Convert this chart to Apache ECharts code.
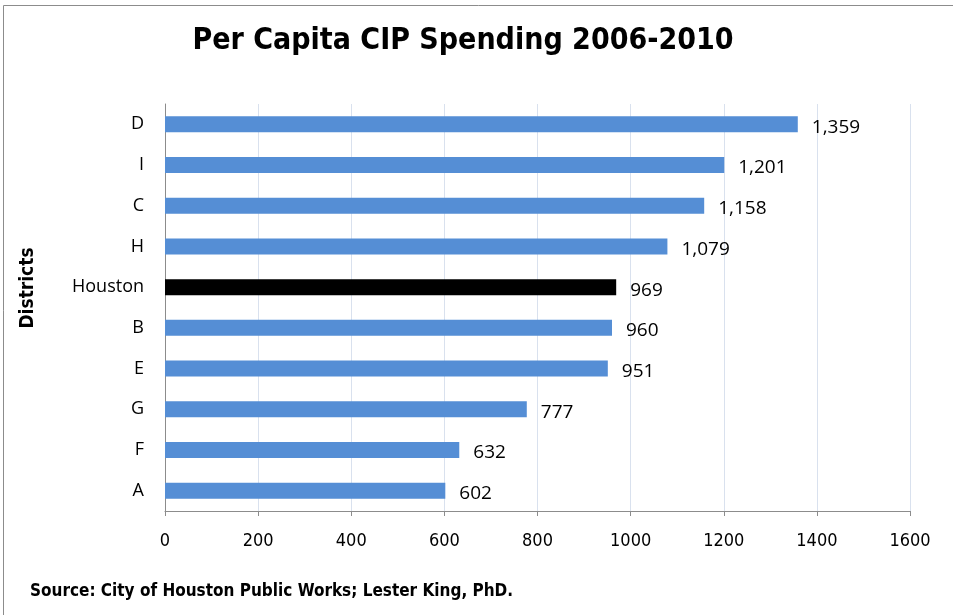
<!DOCTYPE html>
<html><head><meta charset="utf-8">
<script src="https://cdn.jsdelivr.net/npm/echarts@6/dist/echarts.min.js"></script>
<style>html,body{margin:0;padding:0;background:#fff}#c{width:953px;height:615px}</style>
</head><body><div id="c"></div>
<script>
const categories = ['A','F','G','E','B','Houston','H','C','I','D'];
const values = [602,632,777,951,960,969,1079,1158,1201,1359];
const highlight = 'Houston';
const xTicks = [0,200,400,600,800,1000,1200,1400,1600];
const COND = '"DejaVu Sans Condensed", "Liberation Sans Narrow", sans-serif';

const chart = echarts.init(document.getElementById('c'));
chart.setOption({
  animation:false,
  backgroundColor:'#fff',
  graphic:[
    {type:'rect',shape:{x:3.5,y:5.5,width:970,height:640},style:{fill:'none',stroke:'#8c8c8c',lineWidth:1}},
    {type:'text',left:30,top:583,style:{text:'Source: City of Houston Public Works; Lester King, PhD.',font:'bold 17px ' + COND,fill:'#000'}},
    {type:'text',x:28,y:288,rotation:Math.PI/2,style:{text:'Districts',font:'bold 19px ' + COND,fill:'#000',align:'center',verticalAlign:'middle'}}
  ],
  title:{text:'Per Capita CIP Spending 2006-2010',left:458,textAlign:'center',top:21,
    textStyle:{fontFamily:COND,fontWeight:'bold',fontSize:30,color:'#000'}},
  grid:{left:165,right:43,top:104,bottom:104},
  xAxis:{type:'value',min:0,max:1600,interval:200,
    axisLine:{show:true,lineStyle:{color:'#8c8c8c'}},
    axisTick:{show:true,length:5,lineStyle:{color:'#8c8c8c'}},
    axisLabel:{margin:21,fontFamily:COND,fontSize:18,color:'#000',
      formatter:v=>String(v)},
    splitLine:{show:true,lineStyle:{color:'#d9e1ee'}}},
  yAxis:{type:'category',data:categories,
    axisLine:{show:true,lineStyle:{color:'#8c8c8c'}},
    axisTick:{show:false},
    axisLabel:{margin:21,fontFamily:'Open Sans',fontSize:18,color:'#000'}},
  series:[{type:'bar',barWidth:16,
    data:values.map((v,i)=>({value:v,itemStyle:{color:categories[i]===highlight?'#000':'#558ed5'}})),
    label:{show:true,position:'right',distance:14,offset:[0,3],fontFamily:'Open Sans',fontSize:19,color:'#000',
      formatter:p=>p.value.toLocaleString('en-US')}}]
});
</script></body></html>
